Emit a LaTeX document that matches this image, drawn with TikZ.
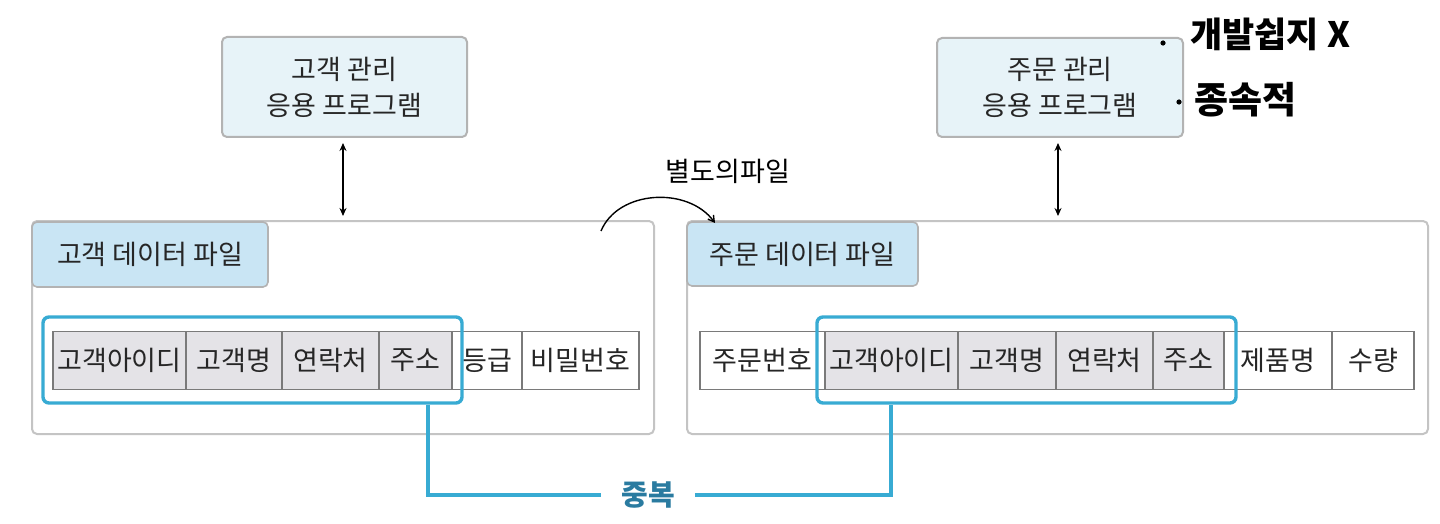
\documentclass[tikz,border=0pt]{standalone}
\usepackage{fontspec}
\setmainfont{Noto Sans CJK KR}
\usetikzlibrary{arrows.meta}
\definecolor{appfill}{HTML}{E7F3F8}
\definecolor{tabfill}{HTML}{C9E5F4}
\definecolor{boxline}{HTML}{B3B3B3}
\definecolor{outline}{HTML}{C4C4C4}
\definecolor{cellline}{HTML}{7A7A7A}
\definecolor{cellgray}{HTML}{E4E3E7}
\definecolor{dupblue}{HTML}{38ABD3}
\definecolor{duptext}{HTML}{2A7BA0}
\definecolor{txt}{HTML}{262626}
\begin{document}
\begin{tikzpicture}[x=1pt,y=-1pt,
  appbox/.style={draw=boxline,line width=2pt,fill=appfill,rounded corners=5pt,inner sep=0pt,align=center,text=txt,font=\fontsize{27}{36}\selectfont},
  outerbox/.style={draw=outline,line width=2pt,fill=white,rounded corners=5pt,inner sep=0pt},
  tabbox/.style={draw=boxline,line width=1.6pt,fill=tabfill,rounded corners=5pt,inner sep=0pt,text=txt,font=\fontsize{27}{32}\selectfont},
  cell/.style={draw=cellline,line width=1.3pt,fill=white,inner sep=0pt,minimum height=58pt,text=txt,font=\fontsize{27}{32}\selectfont},
  gcell/.style={cell,fill=cellgray},
  dupbox/.style={draw=dupblue,line width=3.4pt,rounded corners=6pt,inner sep=0pt,minimum height=86pt},
  dupline/.style={draw=dupblue,line width=3.4pt},
  link/.style={line width=2.2pt,{Stealth[length=8pt,width=7pt]}-{Stealth[length=8pt,width=7pt]},shorten <=5pt,shorten >=4pt},
  hand/.style={font=\fontsize{35}{40}\selectfont\bfseries,text=black,inner sep=0pt}
]
\useasboundingbox[fill=white] (0,0) rectangle (1440,524);

% application boxes
\node[appbox,minimum width=245pt,minimum height=100pt] (capp) at (344.5,87) {고객 관리\\응용 프로그램};
\node[appbox,minimum width=246pt,minimum height=99pt] (oapp) at (1060,87.5) {주문 관리\\응용 프로그램};

% outer file boxes
\node[outerbox,minimum width=622pt,minimum height=213pt] (cfile) at (343,327.5) {};
\node[outerbox,minimum width=741pt,minimum height=213pt] (ofile) at (1057.5,327.5) {};

% arrows
\draw[link] ([xshift=-1.5pt]capp.south) -- ([xshift=-1.5pt]capp.south |- cfile.north);
\draw[link] ([xshift=-2pt]oapp.south) -- ([xshift=-2pt]oapp.south |- ofile.north);

% tabs
\node[tabbox,minimum width=236pt,minimum height=65pt] (ctab) at (150,254.5) {고객 데이터 파일};
\node[tabbox,minimum width=231pt,minimum height=64pt] (otab) at (802.5,254) {주문 데이터 파일};

% customer table
\node[gcell,minimum width=133pt] (c1) at (119.5,360.5) {고객아이디};
\node[gcell,minimum width=96pt] (c2) at (234,360.5) {고객명};
\node[gcell,minimum width=97pt] (c3) at (330.5,360.5) {연락처};
\node[gcell,minimum width=73pt] (c4) at (415.5,360.5) {주소};
\node[cell,minimum width=70pt] (c5) at (487,360.5) {등급};
\node[cell,minimum width=117pt] (c6) at (580.5,360.5) {비밀번호};

% order table
\node[cell,minimum width=125pt] (o1) at (762.5,360.5) {주문번호};
\node[gcell,minimum width=133pt] (o2) at (891.5,360.5) {고객아이디};
\node[gcell,minimum width=98pt] (o3) at (1007,360.5) {고객명};
\node[gcell,minimum width=97pt] (o4) at (1104.5,360.5) {연락처};
\node[gcell,minimum width=71pt] (o5) at (1188.5,360.5) {주소};
\node[cell,minimum width=108pt] (o6) at (1278,360.5) {제품명};
\node[cell,minimum width=82pt] (o7) at (1373,360.5) {수량};

% duplicate highlight
\node[dupbox,minimum width=419pt] (cdup) at (252.5,360) {};
\node[dupbox,minimum width=419pt] (odup) at (1026.5,360) {};
\node[text=duptext,font=\fontsize{29}{34}\selectfont\bfseries,inner xsep=20pt,inner ysep=0pt] (dup) at (648,495) {중복};
\draw[dupline] ([xshift=175.5pt]cdup.south) |- (dup.west);
\draw[dupline] (dup.east) -| ([xshift=-135.5pt]odup.south);

% handwritten notes
\coordinate (hs) at (601,231);
\coordinate (he) at (715,223);
\draw[line width=1.4pt,-{Straight Barb[length=6pt,width=7pt]}] (hs) .. controls (618,190) and (688,186) .. (he);
\node[font=\fontsize{27}{32}\selectfont,inner sep=0pt] (sep) at (728,171) {별도의파일};
\fill (1163,43) circle (2.6pt) coordinate (d1);
\fill (1179,102) circle (2.6pt) coordinate (d2);
\node[hand,anchor=west] (n1) at (1190,34) {개발쉽지 X};
\node[hand,anchor=west,font=\fontsize{37}{42}\selectfont\bfseries] (n2) at (1194,100) {종속적};
\end{tikzpicture}
\end{document}
